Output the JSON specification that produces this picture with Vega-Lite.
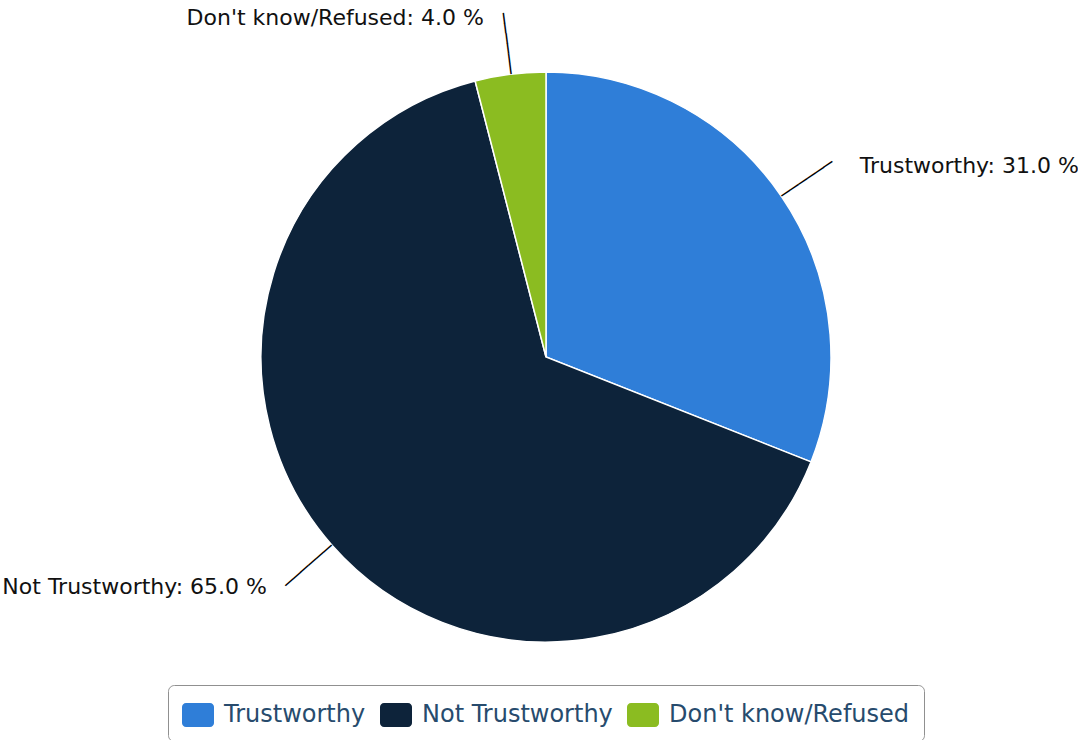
{
  "$schema": "https://vega.github.io/schema/vega-lite/v6.json",
  "width": 1092,
  "height": 714,
  "padding": 0,
  "background": "white",
  "config": {"view": {"stroke": null}, "font": "DejaVu Sans"},
  "data": {"values": [
    {"category": "Trustworthy", "share": 31.0, "rank": 1},
    {"category": "Not Trustworthy", "share": 65.0, "rank": 2},
    {"category": "Don't know/Refused", "share": 4.0, "rank": 3}
  ]},
  "encoding": {
    "theta": {"field": "share", "type": "quantitative", "stack": true},
    "order": {"field": "rank", "type": "quantitative"}
  },
  "layer": [
    {
      "mark": {"type": "arc", "radius": 285, "stroke": "white", "strokeWidth": 1.5},
      "encoding": {
        "color": {
          "field": "category", "type": "nominal",
          "scale": {"domain": ["Trustworthy", "Not Trustworthy", "Don't know/Refused"], "range": ["#2F7ED8", "#0D233A", "#8BBC21"]},
          "legend": {
            "title": null, "orient": "none", "legendX": 168, "legendY": 685, "direction": "horizontal",
            "labelFontSize": 24, "labelColor": "#274B6D", "labelFont": "DejaVu Sans", "labelLimit": 500,
            "symbolType": "M-0.75,-0.75 L0.75,-0.75 A0.25,0.25 0 0 1 1,-0.5 L1,0.5 A0.25,0.25 0 0 1 0.75,0.75 L-0.75,0.75 A0.25,0.25 0 0 1 -1,0.5 L-1,-0.5 A0.25,0.25 0 0 1 -0.75,-0.75 Z",
            "symbolSize": 1024, "symbolStrokeWidth": 0, "symbolOpacity": 1,
            "labelOffset": 10, "columnPadding": 14, "padding": 14,
            "strokeColor": "#909090", "cornerRadius": 6
          }
        }
      }
    },
    {
      "mark": {
        "type": "text", "radius": 316, "text": "──────", "font": "DejaVu Sans Mono", "fontSize": 17,
        "align": "center", "baseline": "middle", "color": "#000",
        "angle": {"expr": "datum.category === 'Trustworthy' ? -34.2 : (datum.category === 'Not Trustworthy' ? -41.4 : 82.8)"}
      }
    },
    {
      "mark": {
        "type": "text", "radius": 360, "fontSize": 22, "font": "DejaVu Sans", "color": "#111", "baseline": "middle",
        "text": {"expr": "datum.category + ': ' + format(datum.share, '.1f') + ' %'"},
        "align": {"expr": "datum.category === 'Trustworthy' ? 'left' : 'right'"},
        "dx": {"expr": "datum.category === 'Trustworthy' ? 16 : (datum.category === 'Not Trustworthy' ? -9 : -17)"},
        "dy": {"expr": "datum.category === 'Trustworthy' ? 11 : (datum.category === 'Not Trustworthy' ? -8 : 18)"}
      }
    }
  ]
}
